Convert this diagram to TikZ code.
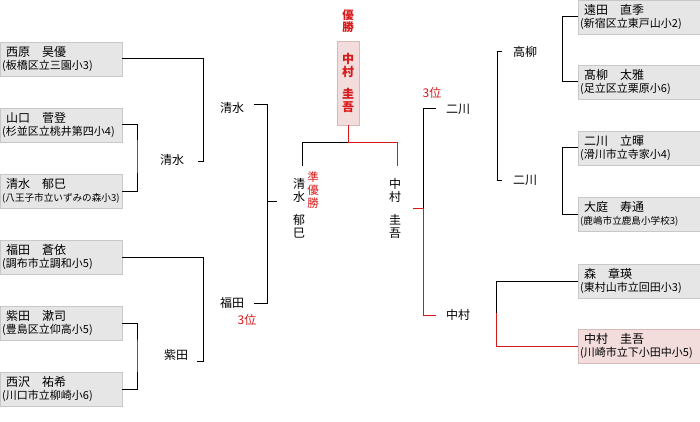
\documentclass[tikz,border=0pt]{standalone}
\usepackage{fontspec}
\setmainfont{Noto Sans CJK JP}
\usepackage{xcolor}
\definecolor{winred}{RGB}{215,25,25}
\definecolor{boxgray}{RGB}{230,230,230}
\definecolor{boxline}{RGB}{200,200,200}
\definecolor{winpink}{RGB}{242,220,220}
\definecolor{pinkline}{RGB}{214,186,186}
\newcommand{\sch}[1]{{\fontsize{11}{13}\selectfont #1}}
\newcommand{\schs}[1]{{\fontsize{9.6}{13}\selectfont #1}}
\newcommand{\nm}[1]{\hspace*{4pt}#1}

\tikzset{
  player/.style={draw=boxline, fill=boxgray, anchor=west, minimum height=34pt,
    text width=118pt, inner xsep=2pt, inner ysep=0pt, align=left,
    font=\fontsize{12}{13}\selectfont},
  champ/.style={player, draw=pinkline, fill=winpink},
  wname/.style={font=\fontsize{12}{13}\selectfont, inner sep=0pt, align=center},
  rank/.style={wname, text=winred, font=\fontsize{12}{13}\selectfont},
  bline/.style={line width=1pt},
  rline/.style={line width=1pt, draw=winred},
}

\begin{document}
\begin{tikzpicture}[x=1pt, y=-1pt]
        \useasboundingbox (0,0) rectangle (700,422);

        % left side
        \node[player] (l1) at (0,59) {\nm{西原　昊優}\\\sch{(板橋区立三園小3)}};
        \node[player] (l2) at (0,125) {\nm{山口　菅登}\\\sch{(杉並区立桃井第四小4)}};
        \node[player] (l3) at (0,191) {\nm{清水　郁巳}\\\schs{(八王子市立いずみの森小3)}};
        \node[player] (l4) at (0,257) {\nm{福田　蒼依}\\\sch{(調布市立調和小5)}};
        \node[player] (l5) at (0,323) {\nm{紫田　漱司}\\\sch{(豊島区立仰高小5)}};
        \node[player] (l6) at (0,389) {\nm{西沢　祐希}\\\sch{(川口市立柳崎小6)}};

        \node[wname] (wA) at (172,160) {清水};
        \node[wname] (wD) at (176,355) {紫田};
        \node[wname] (wB) at (232,108) {清水};
        \node[wname] (wC) at (232,303) {福田};
        \node[rank] (third1) at (247,320) {3位};

        \coordinate (kA) at (137,155);
        \coordinate (kD) at (137,355);
        \coordinate (tB) at (198,161);
        \coordinate (tC) at (197,361);
        \coordinate (tE1) at (254,105);
        \coordinate (tE2) at (254,303);
        \coordinate (jE) at (267,201);
        \coordinate (oE) at (277,201);

        \draw[bline] (l2.east) -| (kA) |- (l3.east);
        \draw[bline] (l5.east) -| (kD) |- (l6.east);
        \draw[bline] (l1.east) -| ([xshift=5pt]tB) -- (tB);
        \draw[bline] (l4.east) -| ([xshift=6pt]tC) -- (tC);
        \draw[bline] (tE1) -| ([xshift=13pt]tE2) -- (tE2);
        \draw[bline] (jE) -- (oE);

        % final
        \node[rank, font=\bfseries\fontsize{11.5}{12}\selectfont] (title) at (348,21) {優\\勝};
        \node[draw=pinkline, fill=winpink, minimum width=22pt, minimum height=84pt,
              inner sep=0pt, text=winred, align=center,
              font=\bfseries\fontsize{12}{13}\selectfont] (final) at (348,83)
              {中\\村\\[9pt]圭\\吾};
        \node[wname] (fin1) at (299,208) {清\\水\\[10pt]郁\\巳};
        \node[wname] (fin2) at (395,208) {中\\村\\[10pt]圭\\吾};
        \node[rank, font=\fontsize{11.5}{13}\selectfont] (second) at (313,190) {準\\優\\勝};

        \coordinate (fJ) at (348,143);
        \coordinate (fL) at (302,166);
        \coordinate (fR) at (397,166);
        \draw[bline] (fJ) -| (fL);
        \draw[rline] (final.south) -- (fJ) -| (fR);

        % right side
        \node[player] (r1) at (578,17) {\nm{遠田　直季}\\\sch{(新宿区立東戸山小2)}};
        \node[player] (r2) at (578,82) {\nm{髙柳　太雅}\\\sch{(足立区立栗原小6)}};
        \node[player] (r3) at (578,148) {\nm{二川　立暉}\\\sch{(滑川市立寺家小4)}};
        \node[player] (r4) at (578,214) {\nm{大庭　寿通}\\\schs{(鹿嶋市立鹿島小学校3)}};
        \node[player] (r5) at (578,281) {\nm{森　章瑛}\\\sch{(東村山市立回田小3)}};
        \node[champ] (r6) at (578,346) {\nm{中村　圭吾}\\\sch{(川崎市立下小田中小5)}};

        \node[wname] (wF) at (525,52) {高柳};
        \node[wname] (wG) at (525,180) {二川};
        \node[wname] (wE) at (458,109) {二川};
        \node[wname] (wH) at (458,315) {中村};
        \node[rank] (third2) at (432,93) {3位};

        \coordinate (kR1) at (562,50);
        \coordinate (kR2) at (562,180);
        \coordinate (kR3) at (496,313);
        \coordinate (tF1) at (502,52);
        \coordinate (tF2) at (502,180);
        \coordinate (tS1) at (436,109);
        \coordinate (tS2) at (436,315);
        \coordinate (jS) at (423,208);
        \coordinate (oS) at (413,208);

        \draw[bline] (r1.west) -| (kR1) |- (r2.west);
        \draw[bline] (r3.west) -| (kR2) |- (r4.west);
        \draw[bline] (r5.west) -| (kR3);
        \draw[rline] (kR3) |- (r6.west);
        \draw[bline] (tF1) -| ([xshift=-5pt]tF2) -- (tF2);
        \draw[bline] (tS1) -| (jS);
        \draw[rline] (oS) -- (jS) |- (tS2);

    \end{tikzpicture}
\end{document}
